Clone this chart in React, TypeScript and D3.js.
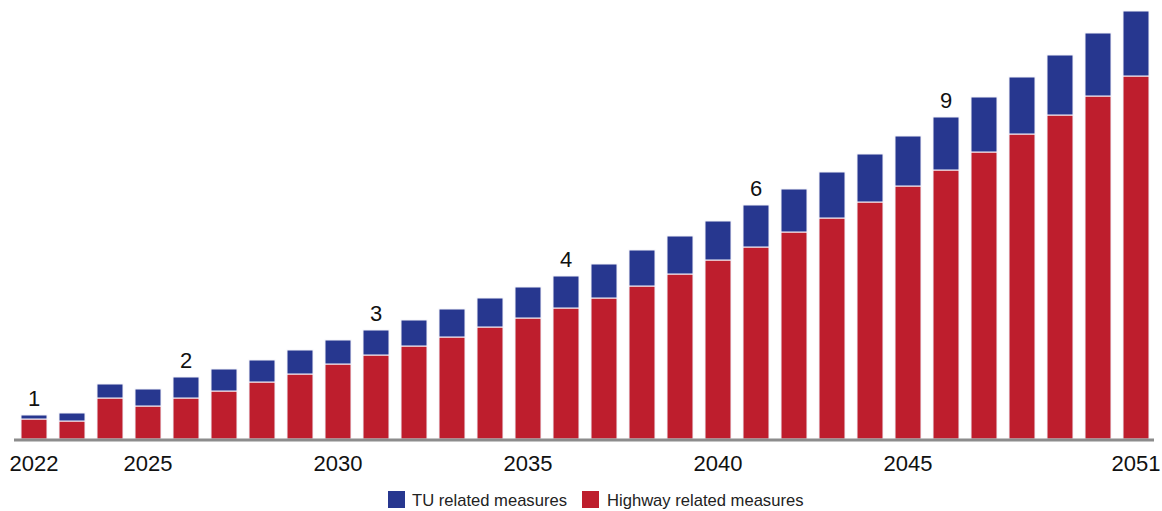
import * as d3 from 'd3';
import * as React from 'react';

// values (arbitrary units)
const years = d3.range(2022, 2052);
const highway = [
    2.0, 1.8, 4.1, 3.3, 4.1, 4.8, 5.7, 6.5, 7.5, 8.4,
    9.3, 10.2, 11.2, 12.1, 13.1, 14.1, 15.3, 16.5, 17.9, 19.2,
    20.7, 22.1, 23.7, 25.3, 26.9, 28.7, 30.5, 32.4, 34.3, 36.3,
];
const tu = [
    0.4, 0.8, 1.4, 1.7, 2.1, 2.2, 2.2, 2.4, 2.4, 2.5,
    2.6, 2.8, 2.9, 3.1, 3.2, 3.4, 3.6, 3.8, 3.9, 4.2,
    4.3, 4.6, 4.8, 5.0, 5.3, 5.5, 5.7, 6.0, 6.3, 6.5,
];
const tickYears = [2022, 2025, 2030, 2035, 2040, 2045, 2051];
const markerYears = [2022, 2026, 2031, 2036, 2041, 2046];
const markerLabels = ['1', '2', '3', '4', '6', '9'];
const seriesNames = ['TU related measures', 'Highway related measures'];

const width = 1162;
const height = 511;
const baseline = 439;
const blue = '#27378f';
const red = '#be1e2d';
const font = '"Liberation Sans", Arial, sans-serif';

export default function App() {
    const x = d3.scaleBand<number>()
        .domain(years)
        .range([15, 1155])
        .paddingInner(12 / 38)
        .paddingOuter(6 / 38);
    const y = d3.scaleLinear()
        .domain([0, 43.9])
        .range([baseline, 0]);

    const stacked = d3.stack<number>()
        .keys(['highway', 'tu'])
        .value((i, key) => (key === 'highway' ? highway[i] : tu[i]))(d3.range(years.length));

    const colors = [red, blue];

    return (
        <svg
            width={width}
            height={height}
            style={{ position: 'fixed', left: 0, top: 0, display: 'block', background: '#fff' }}
        >
            {stacked.map((layer, li) => (
                <g key={li}>
                    {layer.map((d, i) => (
                        <rect
                            key={i}
                            x={x(years[i])}
                            y={y(d[1])}
                            width={x.bandwidth()}
                            height={y(d[0]) - y(d[1])}
                            fill={colors[li]}
                            stroke="#f4f4fa"
                            strokeWidth={1}
                        />
                    ))}
                </g>
            ))}
            <line x1={14} x2={1154} y1={440} y2={440} stroke="#8c8c8c" strokeWidth={3} />
            {tickYears.map(yr => (
                <text
                    key={yr}
                    x={x(yr)! + x.bandwidth() / 2}
                    y={471}
                    textAnchor="middle"
                    fontFamily={font}
                    fontSize={22}
                    fill="#111"
                >
                    {yr}
                </text>
            ))}
            {markerYears.map((yr, k) => {
                const i = years.indexOf(yr);
                return (
                    <text
                        key={yr}
                        x={x(yr)! + x.bandwidth() / 2}
                        y={y(highway[i] + tu[i]) - 9}
                        textAnchor="middle"
                        fontFamily={font}
                        fontSize={22}
                        fill="#111"
                    >
                        {markerLabels[k]}
                    </text>
                );
            })}
            <g fontFamily={font} fontSize={16.6} fill="#222">
                <rect x={388} y={491} width={17} height={17} fill={blue} />
                <text x={412} y={506}>{seriesNames[0]}</text>
                <rect x={582} y={491} width={17} height={17} fill={red} />
                <text x={607} y={506}>{seriesNames[1]}</text>
            </g>
        </svg>
    );
}
